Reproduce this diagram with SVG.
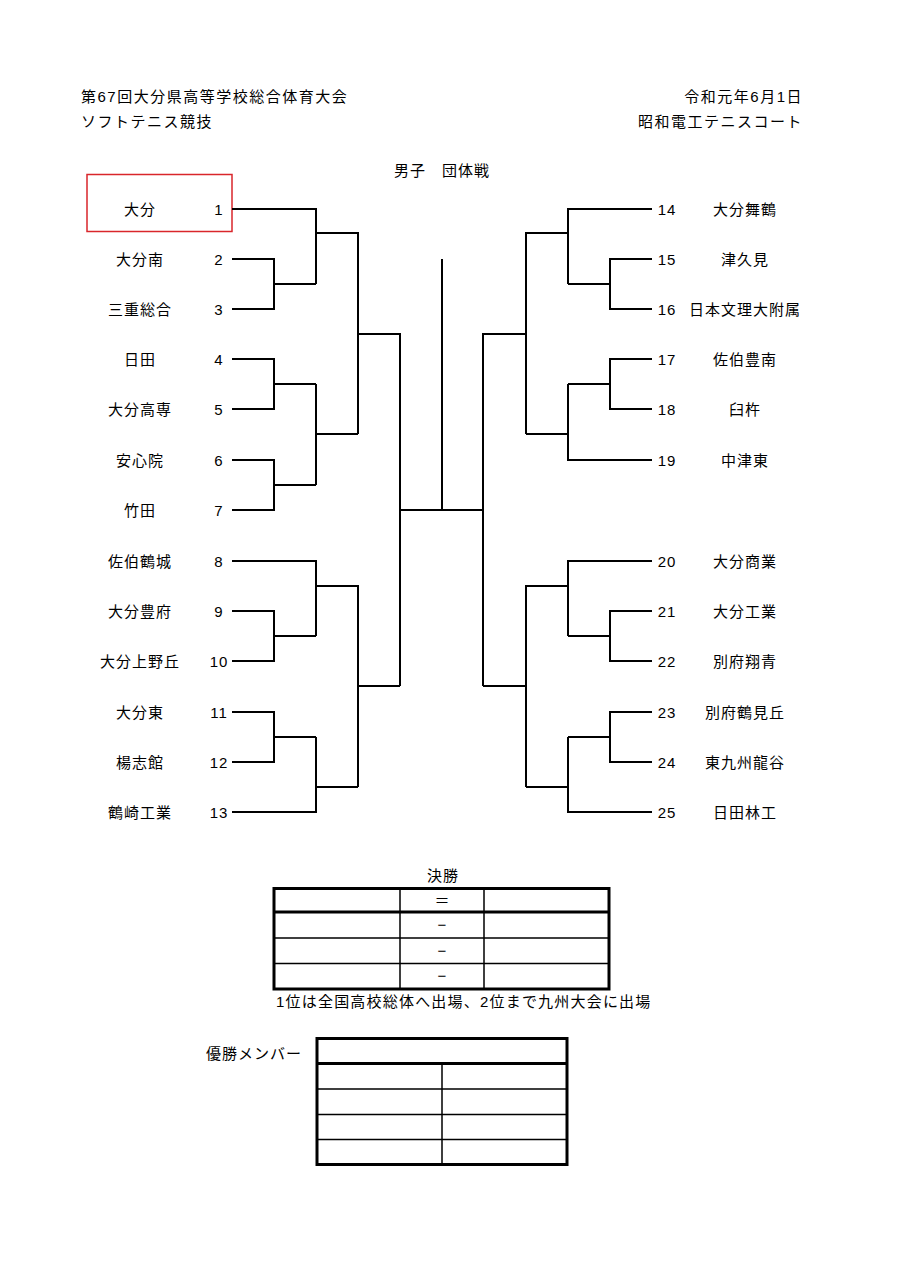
<svg xmlns="http://www.w3.org/2000/svg" width="905" height="1280" viewBox="0 0 905 1280">
<style>
text{font-family:"Liberation Sans","Noto Sans CJK JP",sans-serif;font-size:15px;fill:#000;letter-spacing:1px}
.m{text-anchor:middle}
.e{text-anchor:end}
.h{letter-spacing:1.5px}
.z{letter-spacing:0}
.br{fill:none;stroke:#000;stroke-width:2}
.thin{stroke:#000;stroke-width:1.5;fill:none}
.thick{stroke:#000;stroke-width:3;fill:none}
</style>
<rect width="905" height="1280" fill="#fff"/>
<g id="header">
<text class="h" x="81" y="102">第67回大分県高等学校総合体育大会</text>
<text class="h" x="81" y="127">ソフトテニス競技</text>
<text class="e h" x="803" y="102">令和元年6月1日</text>
<text class="e h" x="803" y="127">昭和電工テニスコート</text>
<text class="m" x="442" y="176">男子　団体戦</text>
</g>
<g id="highlight"><rect x="87" y="174.5" width="145" height="57" fill="none" stroke="#d9262b" stroke-width="1.5"/></g>
<g id="teams-left">
<g id="t1"><text class="m" x="140" y="215">大分</text><text class="m" x="219" y="215">1</text></g>
<g id="t2"><text class="m" x="140" y="265">大分南</text><text class="m" x="219" y="265">2</text></g>
<g id="t3"><text class="m" x="140" y="315">三重総合</text><text class="m" x="219" y="315">3</text></g>
<g id="t4"><text class="m" x="140" y="365">日田</text><text class="m" x="219" y="365">4</text></g>
<g id="t5"><text class="m" x="140" y="415">大分高専</text><text class="m" x="219" y="415">5</text></g>
<g id="t6"><text class="m" x="140" y="466">安心院</text><text class="m" x="219" y="466">6</text></g>
<g id="t7"><text class="m" x="140" y="516">竹田</text><text class="m" x="219" y="516">7</text></g>
<g id="t8"><text class="m" x="140" y="567">佐伯鶴城</text><text class="m" x="219" y="567">8</text></g>
<g id="t9"><text class="m" x="140" y="617">大分豊府</text><text class="m" x="219" y="617">9</text></g>
<g id="t10"><text class="m" x="140" y="667">大分上野丘</text><text class="m" x="219" y="667">10</text></g>
<g id="t11"><text class="m" x="140" y="718">大分東</text><text class="m" x="219" y="718">11</text></g>
<g id="t12"><text class="m" x="140" y="768">楊志館</text><text class="m" x="219" y="768">12</text></g>
<g id="t13"><text class="m" x="140" y="818">鶴崎工業</text><text class="m" x="219" y="818">13</text></g>
</g>
<g id="teams-right">
<g id="t14"><text class="m" x="667" y="215">14</text><text class="m" x="745" y="215">大分舞鶴</text></g>
<g id="t15"><text class="m" x="667" y="265">15</text><text class="m" x="745" y="265">津久見</text></g>
<g id="t16"><text class="m" x="667" y="315">16</text><text class="m" x="745" y="315">日本文理大附属</text></g>
<g id="t17"><text class="m" x="667" y="365">17</text><text class="m" x="745" y="365">佐伯豊南</text></g>
<g id="t18"><text class="m" x="667" y="415">18</text><text class="m" x="745" y="415">臼杵</text></g>
<g id="t19"><text class="m" x="667" y="466">19</text><text class="m" x="745" y="466">中津東</text></g>
<g id="t20"><text class="m" x="667" y="567">20</text><text class="m" x="745" y="567">大分商業</text></g>
<g id="t21"><text class="m" x="667" y="617">21</text><text class="m" x="745" y="617">大分工業</text></g>
<g id="t22"><text class="m" x="667" y="667">22</text><text class="m" x="745" y="667">別府翔青</text></g>
<g id="t23"><text class="m" x="667" y="718">23</text><text class="m" x="745" y="718">別府鶴見丘</text></g>
<g id="t24"><text class="m" x="667" y="768">24</text><text class="m" x="745" y="768">東九州龍谷</text></g>
<g id="t25"><text class="m" x="667" y="818">25</text><text class="m" x="745" y="818">日田林工</text></g>
</g>
<g id="connectors" class="br">
<path d="M232 209H316V284"/>
<path d="M232 259H274V309H232M274 284H316"/>
<path d="M316 233H358V434"/>
<path d="M232 359H274V409H232M274 384H316"/>
<path d="M232 460H274V510H232M274 485H316"/>
<path d="M316 384V485M316 434H358"/>
<path d="M358 334H400V686"/>
<path d="M232 561H316V636"/>
<path d="M232 611H274V661H232M274 636H316"/>
<path d="M316 586H358V787"/>
<path d="M232 712H274V762H232M274 737H316"/>
<path d="M232 812H316V737"/>
<path d="M316 787H358M358 686H400"/>
<path d="M400 510H483M442 259V510"/>
<path d="M652 209H568V284"/>
<path d="M652 259H610V309H652M610 284H568"/>
<path d="M568 233H526V434"/>
<path d="M652 359H610V409H652M610 384H568"/>
<path d="M652 460H568V384"/>
<path d="M568 434H526"/>
<path d="M526 334H483V686"/>
<path d="M652 561H568V636"/>
<path d="M652 611H610V661H652M610 636H568"/>
<path d="M568 586H526V787"/>
<path d="M652 712H610V762H652M610 737H568"/>
<path d="M652 812H568V737"/>
<path d="M568 787H526M526 686H483"/>
</g>
<g id="final-table">
<text class="m" x="443" y="881">決勝</text>
<path class="thin" d="M400 889V989M484 889V989M274 938H609M274 963.5H609"/>
<path class="thick" d="M274 912H609"/>
<rect class="thick" x="274" y="888.5" width="335" height="100.5"/>
<text class="m z" x="442" y="906">＝</text>
<text class="m z" x="442" y="930">−</text>
<text class="m z" x="442" y="956">−</text>
<text class="m z" x="442" y="981">−</text>
<text x="276" y="1007" style="letter-spacing:1.2px">1位は全国高校総体へ出場、2位まで九州大会に出場</text>
</g>
<g id="member-table">
<text x="206" y="1059">優勝メンバー</text>
<path class="thin" d="M442 1063V1164M317 1089H567M317 1114.5H567M317 1139.5H567"/>
<path class="thick" d="M317 1063.5H567"/>
<rect class="thick" x="317" y="1038.5" width="250" height="126"/>
</g>
</svg>
